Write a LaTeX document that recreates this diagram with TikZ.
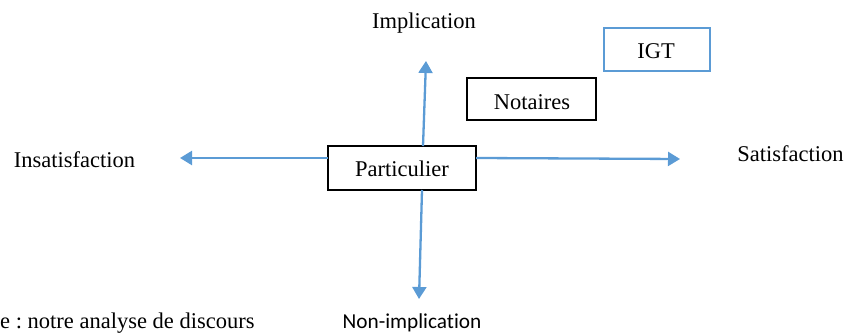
\documentclass[tikz,border=0pt]{standalone}
\usepackage{fontspec}
\setmainfont{Liberation Serif}
\newfontfamily\carlito[Ligatures=NoCommon]{Carlito}
\usetikzlibrary{arrows.meta}
\definecolor{axisblue}{RGB}{91,155,213}
\frenchspacing
\begin{document}
\begin{tikzpicture}[x=1pt,y=1pt,
  lbl/.style={font=\fontsize{22.5}{26}\selectfont, inner sep=0pt, anchor=base},
  boxn/.style={draw=black, line width=1.2pt, inner sep=0pt},
  boxblue/.style={draw=axisblue, line width=1.2pt, inner sep=0pt},
  axisarrow/.style={draw=axisblue, line width=2.3pt, -{Triangle[width=14pt,length=12pt]}}]
\useasboundingbox (0,0) rectangle (848,334);
% boxes
\node[boxn, minimum width=148, minimum height=44] (part) at (402, 166) {};
\node[boxn, minimum width=129, minimum height=42] (nota) at (531.5, 235) {};
\node[boxblue, minimum width=106, minimum height=43] (igt) at (657, 284.5) {};
% box texts
\node[lbl] (tpart) at (402, 157) {Particulier};
\node[lbl] (tnota) at (532, 224) {Notaires};
\node[lbl] (tigt) at (656, 275) {IGT};
% axis labels
\node[lbl] (impl) at (424, 305) {Implication};
\node[lbl] (insat) at (74.5, 166) {Insatisfaction};
\node[lbl] (sat) at (790.5, 172) {Satisfaction};
\node[lbl, font=\carlito\fontsize{21.3}{24}\selectfont] (nonimpl) at (412, 5) {Non-implication};
\node[lbl, anchor=base west] (src) at (0, 5) {e : notre analyse de discours};
% arrow ends
\coordinate (upS) at (423, 188);
\coordinate (upE) at (426, 273);
\coordinate (dnS) at (422, 144);
\coordinate (dnE) at (419, 35);
\coordinate (ltS) at (328, 176);
\coordinate (ltE) at (180, 176);
\coordinate (rtS) at (476, 176);
\coordinate (rtE) at (680, 175);
\draw[axisarrow] (upS) -- (upE);
\draw[axisarrow] (dnS) -- (dnE);
\draw[axisarrow] (ltS) -- (ltE);
\draw[axisarrow] (rtS) -- (rtE);
\end{tikzpicture}
\end{document}
